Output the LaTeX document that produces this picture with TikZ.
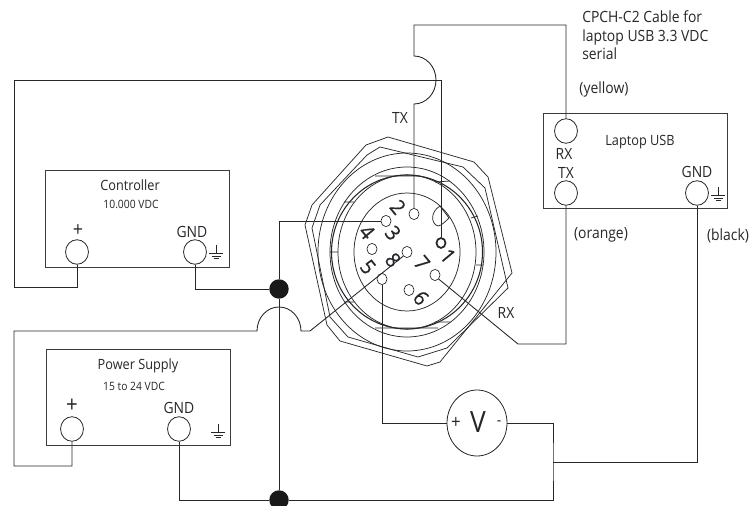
\documentclass[tikz,border=0pt]{standalone}
\usepackage{fontspec}
\setmainfont[FakeStretch=0.9]{Open Sans}
\newfontfamily\digfont[FakeBold=0.5,FakeStretch=0.95]{Open Sans}
\usetikzlibrary{shapes.geometric}
\definecolor{ink}{HTML}{26262B}
\tikzset{
  wire/.style={draw=ink,line width=0.65pt,line join=miter},
  outline/.style={draw=ink,line width=0.55pt},
  devbox/.style={rectangle,draw=ink!90,line width=0.75pt,inner sep=0pt},
  port/.style={ellipse,draw=ink,line width=0.6pt,inner sep=0pt,minimum width=17.2pt,minimum height=18.4pt,fill=white},
  pin/.style={ellipse,draw=ink,line width=0.5pt,inner sep=0pt,minimum width=7.6pt,minimum height=8.4pt},
  boldpin/.style={pin,line width=1.3pt,minimum width=6.8pt,minimum height=7.4pt},
  junction/.style={circle,fill=black!90,draw=none,inner sep=0pt,minimum size=14.6pt},
  lab/.style={text=ink,inner sep=0pt,font=\fontsize{10.6}{12}\selectfont},
  big/.style={text=ink,inner sep=0pt,font=\fontsize{11.6}{14}\selectfont},
  small/.style={text=ink,inner sep=0pt,font=\fontsize{8.6}{10}\selectfont},
  num/.style={text=ink,inner sep=0pt,rotate=-50,font=\digfont\fontsize{15.5}{15.5}\selectfont},
  gndsym/.pic={
    \draw[wire,line width=0.5pt] (0,-8) -- (0,0);
    \draw[wire,line width=0.5pt] (-7,0) -- (7,0) (-4.5,3) -- (4.5,3) (-2.5,5.5) -- (2.5,5.5);
  }
}
\begin{document}
\begin{tikzpicture}[x=0.75pt,y=-0.75pt]
\clip (0,0) rectangle (750,506);
% boxes
\node[devbox,minimum width=138pt,minimum height=72pt] (ctrl) at (137,219) {};
\node[devbox,minimum width=138pt,minimum height=72pt] (ps) at (138,397) {};
\node[devbox,minimum width=138pt,minimum height=71.25pt] (usb) at (635,161.5) {};
% connector body
\draw[outline] (388,137)--(366,145)--(312,205)--(305,225)--(327,325)--(340,341)--(427,366)--(440,362)--(512,273)--(488,177)--(474,162)--cycle;
\draw[outline] (463,167)--(485,188)--(508,288)--(447,348)--(418,357)--(348,337)--(330,317)--(312,228)--(320,205)--(367,155)--(380,147)--cycle;
\draw[outline] (407,252) ellipse [x radius=89,y radius=99];
\draw[outline] (407,252) ellipse [x radius=77,y radius=85];
\draw[outline,line width=0.8pt] (407,252) ellipse [x radius=75.5,y radius=77];
\draw[outline] (407,252) ellipse [x radius=69,y radius=77];
\draw[outline] (407,252) ellipse [x radius=53,y radius=59];
\draw[outline] (375,176)--(420,176) (435,182)--(450,181) (375,328)--(438,328) (435,322)--(450,322)
  (344,202)--(354,202) (344,302)--(354,302) (330,252)--(338,252) (471,218)--(478,216) (476,265)--(483,265);
\draw[outline] (440,206) .. controls (430,212) and (431,224) .. (438,226) .. controls (441,226) and (446,221) .. (449,218) -- cycle;
% pins
\node[boldpin] (p1) at (441,243) {};
\node[pin] (p2) at (414,214) {};
\node[pin] (p3) at (386,221) {};
\node[pin] (p4) at (372,249) {};
\node[pin] (p5) at (382,279) {};
\node[pin] (p6) at (409,290) {};
\node[pin] (p7) at (435,275) {};
\node[pin] (p8) at (407,252) {};
\node[num] (n1) at (448,256) {1};
\node[num] (n2) at (398,207) {2};
\node[num] (n3) at (393,233) {3};
\node[num] (n4) at (367,232) {4};
\node[num] (n5) at (368,267) {5};
\node[num] (n6) at (421,298) {6};
\node[num] (n7) at (422,263) {7};
\node[num] (n8) at (393,260) {8};
% ports
\node[port] (cplus) at (77,252) {};
\node[port] (cgnd) at (195,252) {};
\node[port] (pplus) at (72,429) {};
\node[port] (pgnd) at (179,429) {};
\node[port] (urx) at (566,131) {};
\node[port] (utx) at (566,193) {};
\node[port] (ugnd) at (697,193) {};
\node[ellipse,draw=ink,line width=0.6pt,inner sep=0pt,minimum width=45pt,minimum height=49.5pt] (vm) at (477,423) {};
\node[junction] (j1) at (279,289) {};
\node[junction] (j2) at (279,500) {};
% free corners
\coordinate (busTop) at (279,221);
\coordinate (bumpL) at (257,331);
\coordinate (bumpR) at (301,331);
\coordinate (kink) at (310,331);
\coordinate (txLow) at (414,104);
\coordinate (txHigh) at (414,56);
\coordinate (vRight) at (553,423);
\coordinate (tee) at (553,462);
\coordinate (rxCorner) at (518,344);
% wires
\draw[wire] (cplus.south) -- (77,287) -- (14,287) -- (14,80) -- (441,80) -- (p1.north);
\draw[wire] (cgnd.south) |- (j1.west);
\draw[wire] (p3.west) -- (busTop) -- (j1.north);
\draw[wire] (j1.south) -- (j2.north);
\draw[wire] (p2.north) -- (txLow) arc[start angle=90,end angle=-90,x radius=22,y radius=24] -- (txHigh) -- (414,25) -- (566,25) -- (urx.north);
\draw[wire] (pplus.south) -- (72,466) -- (14,466) -- (14,331) -- (bumpL) arc[start angle=180,end angle=360,x radius=22,y radius=24] -- (kink) -- (p8.south west);
\draw[wire] (pgnd.south) |- (j2.west);
\draw[wire] (j2.east) -- (553,500) -- (tee) -- (vRight) -- (vm.east);
\draw[wire] (vm.west) -| (p5.south);
\draw[wire] (ugnd.south) |- (tee);
\draw[wire] (utx.south) |- (rxCorner) -- (p7.south east);
% ground symbols
\pic at (216,253) {gndsym};
\pic at (218,432) {gndsym};
\pic at (718,195) {gndsym};
% text
\node[lab] (tController) at (130,185) {Controller};
\node[small] (tCv) at (131,204) {10.000 VDC};
\node[text=ink,inner sep=0pt,font=\fontsize{15}{15}\selectfont] (tCp) at (78,231) {+};
\node[big] (tCg) at (192,232) {GND};
\node[lab] (tPS) at (138,366) {Power Supply};
\node[small] (tPv) at (134,386) {15 to 24 VDC};
\node[text=ink,inner sep=0pt,font=\fontsize{17}{17}\selectfont] (tPp) at (72,406) {+};
\node[big] (tPg) at (179,408) {GND};
\node[lab] (tLaptop) at (640,142) {Laptop USB};
\node[big] (tRx) at (564,154) {RX};
\node[big] (tTx) at (566,173) {TX};
\node[big] (tUg) at (697,172) {GND};
\node[big,align=left,anchor=north west,font=\fontsize{11.6}{14.2}\selectfont] (tCable) at (582,10) {CPCH-C2 Cable for\\laptop USB 3.3 VDC\\serial};
\node[big] (tY) at (604,89) {(yellow)};
\node[big] (tO) at (601,235) {(orange)};
\node[big] (tB) at (728,236) {(black)};
\node[big] (tTXp) at (400,118) {TX};
\node[big] (tRXp) at (506,313) {RX};
\node[text=ink,inner sep=0pt,font=\fontsize{14}{14}\selectfont] (tVp) at (456,423) {+};
\node[text=ink,inner sep=0pt,font=\fontsize{22}{22}\selectfont] (tV) at (478,422) {V};
\node[big] (tVm) at (499,423) {-};
\end{tikzpicture}
\end{document}
